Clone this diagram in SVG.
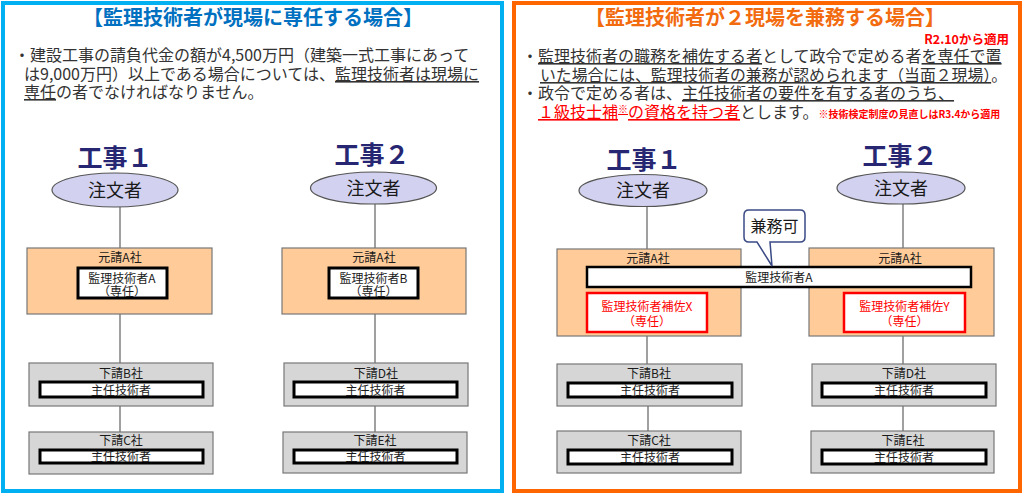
<svg xmlns="http://www.w3.org/2000/svg" width="1024" height="496" viewBox="0 0 1024 496">
<defs>
<style>
text{font-family:"Noto Sans CJK JP","Noto Sans",sans-serif;fill:#1a1a1a}
.title{font-size:20px;font-weight:bold;text-anchor:middle}
.body{font-size:16px;fill:#333}
.u{text-decoration:underline}
.kj{font-size:25px;font-weight:bold;fill:#262673;text-anchor:middle}
.ell{fill:#D2D2F0;stroke:#555;stroke-width:1.2}
.ellt{font-size:18px;text-anchor:middle}
.peach{fill:#FFCC99;stroke:#777;stroke-width:1.2}
.gray{fill:#D6D6D6;stroke:#777;stroke-width:1.2}
.wb{fill:#fff;stroke:#000;stroke-width:3}
.rb{fill:#fff;stroke:#FF0000;stroke-width:2.5}
.lbl{font-size:12px;text-anchor:middle}
.red{fill:#FF0000}
.conn line{stroke:#808080;stroke-width:1.5}
</style>
</defs>
<rect x="0" y="0" width="1024" height="496" fill="#fff"/>

<g id="panel-left">
<rect x="3" y="3" width="499" height="488" fill="none" stroke="#00B0F0" stroke-width="4"/>
<text class="title" x="253" y="25" style="fill:#0070C0">【監理技術者が現場に専任する場合】</text>
<text class="body" x="14" y="61">・建設工事の請負代金の額が4,500万円（建築一式工事にあって</text>
<text class="body" x="24" y="80">は9,000万円）以上である場合については、<tspan class="u">監理技術者は現場に</tspan></text>
<text class="body" x="24" y="98"><tspan class="u">専任</tspan>の者でなければなりません。</text>
</g>

<g id="panel-right">
<rect x="514" y="3" width="506" height="488" fill="none" stroke="#FF6600" stroke-width="4"/>
<text class="title" x="765" y="25" style="fill:#F26B0F">【監理技術者が２現場を兼務する場合】</text>
<text x="1009" y="44" style="font-size:12.5px;font-weight:bold;fill:#FF0000;text-anchor:end">R2.10から適用</text>
<text class="body" x="522" y="62">・<tspan class="u">監理技術者の職務を補佐する者</tspan>として政令で定める者<tspan class="u">を専任で置</tspan></text>
<text class="body" x="540" y="81" textLength="467" lengthAdjust="spacingAndGlyphs"><tspan class="u">いた場合には、監理技術者の兼務が認められます（当面２現場）</tspan>。</text>
<text class="body" x="522" y="99">・政令で定める者は、<tspan class="u">主任技術者の要件を有する者のうち、</tspan></text>
<text class="body" x="538" y="118"><tspan class="u" style="fill:#FF0000">１級技士補<tspan style="font-size:10px" dy="-5">※</tspan><tspan dy="5">の資格を持つ者</tspan></tspan>とします。<tspan style="font-size:10px;font-weight:bold;fill:#FF0000">※技術検定制度の見直しはR3.4から適用</tspan></text>
</g>

<g class="conn" id="connectors">
<line x1="120" y1="207" x2="120" y2="248"/>
<line x1="120" y1="314" x2="120" y2="363"/>
<line x1="120" y1="406" x2="120" y2="432"/>
<line x1="375" y1="204" x2="375" y2="248"/>
<line x1="375" y1="314" x2="375" y2="363"/>
<line x1="375" y1="406" x2="375" y2="432"/>
<line x1="647" y1="206" x2="647" y2="249"/>
<line x1="647" y1="336" x2="647" y2="364"/>
<line x1="648" y1="406" x2="648" y2="431"/>
<line x1="903" y1="203" x2="903" y2="248"/>
<line x1="903" y1="336" x2="903" y2="364"/>
<line x1="903" y1="406" x2="903" y2="431"/>
</g>

<!-- Left: 工事1 -->
<g id="L-kouji1"><text class="kj" x="115" y="167">工事１</text></g>
<g id="L-client1"><ellipse class="ell" cx="115" cy="190" rx="63" ry="17"/><text class="ellt" x="115" y="197">注文者</text></g>
<g id="L-primeA1">
<rect class="peach" x="27" y="248" width="185" height="66"/>
<text class="lbl" x="120" y="262">元請A社</text>
<rect class="wb" x="78" y="268" width="89" height="30"/>
<text class="lbl" x="122" y="283">監理技術者A</text>
<text class="lbl" x="122" y="296">（専任）</text>
</g>
<g id="L-subB">
<rect class="gray" x="29" y="363" width="184" height="43"/>
<text class="lbl" x="121" y="378">下請B社</text>
<rect class="wb" x="40" y="382" width="163" height="15"/>
<text class="lbl" x="121" y="395">主任技術者</text>
</g>
<g id="L-subC">
<rect class="gray" x="29" y="432" width="184" height="42"/>
<text class="lbl" x="121" y="445">下請C社</text>
<rect class="wb" x="40" y="450" width="163" height="13"/>
<text class="lbl" x="121" y="461">主任技術者</text>
</g>

<!-- Left: 工事2 -->
<g id="L-kouji2"><text class="kj" x="372" y="164">工事２</text></g>
<g id="L-client2"><ellipse class="ell" cx="373.5" cy="188" rx="63" ry="16"/><text class="ellt" x="373.5" y="195">注文者</text></g>
<g id="L-primeA2">
<rect class="peach" x="282" y="248" width="184" height="66"/>
<text class="lbl" x="374" y="262">元請A社</text>
<rect class="wb" x="329" y="268" width="89" height="30"/>
<text class="lbl" x="373.5" y="283">監理技術者B</text>
<text class="lbl" x="373.5" y="296">（専任）</text>
</g>
<g id="L-subD">
<rect class="gray" x="284" y="363" width="184" height="43"/>
<text class="lbl" x="376" y="378">下請D社</text>
<rect class="wb" x="294" y="382" width="163" height="15"/>
<text class="lbl" x="375.5" y="395">主任技術者</text>
</g>
<g id="L-subE">
<rect class="gray" x="283" y="432" width="184" height="41"/>
<text class="lbl" x="375" y="445">下請E社</text>
<rect class="wb" x="294" y="450" width="163" height="13"/>
<text class="lbl" x="375.5" y="461">主任技術者</text>
</g>

<!-- Right: 工事1 -->
<g id="R-kouji1"><text class="kj" x="644" y="169">工事１</text></g>
<g id="R-client1"><ellipse class="ell" cx="643" cy="190.5" rx="64" ry="16"/><text class="ellt" x="643" y="197">注文者</text></g>
<g id="R-primeA1">
<rect class="peach" x="557" y="249" width="184" height="87"/>
<text class="lbl" x="648" y="263">元請A社</text>
</g>
<g id="R-primeA2">
<rect class="peach" x="809" y="248" width="185" height="88"/>
<text class="lbl" x="900" y="263">元請A社</text>
</g>
<g id="R-engA">
<rect class="wb" x="587" y="267" width="384" height="20" style="stroke-width:2.5"/>
<text class="lbl" x="779" y="282">監理技術者A</text>
</g>
<g id="R-assistX">
<rect class="rb" x="587" y="293" width="120" height="39"/>
<text class="lbl red" x="647" y="311">監理技術者補佐X</text>
<text class="lbl red" x="647" y="326">（専任）</text>
</g>
<g id="R-assistY">
<rect class="rb" x="844" y="293" width="121" height="39"/>
<text class="lbl red" x="904.5" y="311">監理技術者補佐Y</text>
<text class="lbl red" x="904.5" y="326">（専任）</text>
</g>
<g id="R-callout">
<path d="M749 210 H800 Q805 210 805 215 V237 Q805 242 800 242 H770 L772 266 L757 242 H749 Q744 242 744 237 V215 Q744 210 749 210 Z" fill="#fff" stroke="#3A4A85" stroke-width="1.5"/>
<text x="774.5" y="232" style="font-size:16px;text-anchor:middle">兼務可</text>
</g>
<g id="R-subB">
<rect class="gray" x="557" y="364" width="185" height="42"/>
<text class="lbl" x="649" y="378">下請B社</text>
<rect class="wb" x="568" y="383" width="164" height="14"/>
<text class="lbl" x="650" y="395">主任技術者</text>
</g>
<g id="R-subC">
<rect class="gray" x="557" y="431" width="184" height="42"/>
<text class="lbl" x="649" y="445">下請C社</text>
<rect class="wb" x="568" y="450" width="164" height="14"/>
<text class="lbl" x="650" y="462">主任技術者</text>
</g>

<!-- Right: 工事2 -->
<g id="R-kouji2"><text class="kj" x="900" y="165">工事２</text></g>
<g id="R-client2"><ellipse class="ell" cx="901" cy="188" rx="64" ry="16"/><text class="ellt" x="901" y="195">注文者</text></g>
<g id="R-subD">
<rect class="gray" x="812" y="364" width="184" height="42"/>
<text class="lbl" x="904" y="378">下請D社</text>
<rect class="wb" x="822" y="383" width="164" height="14"/>
<text class="lbl" x="904" y="395">主任技術者</text>
</g>
<g id="R-subE">
<rect class="gray" x="811" y="431" width="183" height="42"/>
<text class="lbl" x="903" y="445">下請E社</text>
<rect class="wb" x="822" y="450" width="164" height="14"/>
<text class="lbl" x="904" y="462">主任技術者</text>
</g>
</svg>
